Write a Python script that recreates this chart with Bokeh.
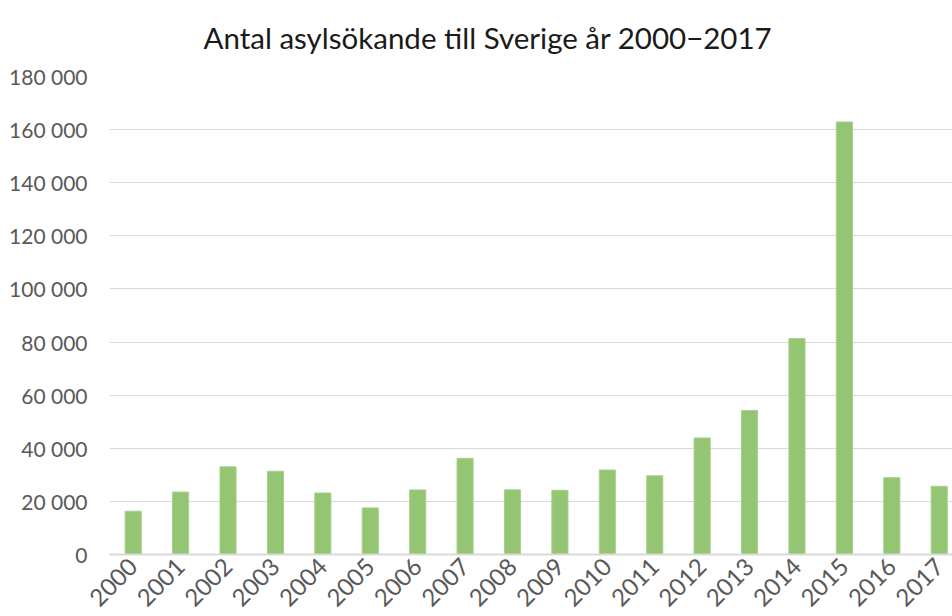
from bokeh.plotting import figure
from bokeh.models import Range1d, FixedTicker, ColumnDataSource
from bokeh.embed import file_html
from bokeh.resources import INLINE

years = [2000, 2001, 2002, 2003, 2004, 2005, 2006, 2007, 2008, 2009,
         2010, 2011, 2012, 2013, 2014, 2015, 2016, 2017]
year_labels = [str(y) for y in years]
applicants = [16303, 23515, 33016, 31355, 23161, 17530, 24322, 36207, 24353,
              24194, 31819, 29648, 43887, 54259, 81301, 162877, 28939, 25666]
y_ticks = [0, 20000, 40000, 60000, 80000, 100000, 120000, 140000, 160000, 180000]
y_tick_labels = ["0", "20 000", "40 000", "60 000", "80 000", "100 000",
                 "120 000", "140 000", "160 000", "180 000"]
title_text = "Antal asylsökande till Sverige år 2000\u22122017"

FONT = "Lato"
GRID = "#d9d9d9"
TXT = "#595959"

src = ColumnDataSource(dict(x=years, y=applicants))

p = figure(width=952, height=616, output_backend="svg", toolbar_location=None,
           x_range=Range1d(1999.5, 2017.28), y_range=Range1d(0, 180000),
           min_border_left=109, min_border_right=0, min_border_top=76,
           min_border_bottom=60)
p.outline_line_color = None
p.background_fill_color = "white"
p.border_fill_color = "white"

p.title.text = title_text
p.title.align = "left"
p.title.offset = 94
p.title.vertical_align = "top"
p.title.text_font = FONT
p.title.text_font_size = "29.5px"
p.title.text_font_style = "normal"
p.title.text_color = "#1a1a1a"
p.title.standoff = 39

p.vbar(x="x", top="y", width=0.34, source=src, fill_color="#93C572",
       line_color="#a8d08d", line_width=1)

p.xgrid.grid_line_color = None
p.ygrid.grid_line_color = GRID
p.ygrid.grid_line_width = 1
p.ygrid.ticker = FixedTicker(ticks=y_ticks)

p.yaxis.ticker = FixedTicker(ticks=y_ticks)
p.yaxis.major_label_overrides = {t: l for t, l in zip(y_ticks, y_tick_labels)}
p.yaxis.axis_line_color = None
p.yaxis.major_tick_line_color = None
p.yaxis.minor_tick_line_color = None
p.yaxis.major_tick_in = 0
p.yaxis.major_tick_out = 0
p.yaxis.major_label_standoff = 22
p.yaxis.major_label_text_font = FONT
p.yaxis.major_label_text_font_size = "21px"
p.yaxis.major_label_text_color = TXT

p.xaxis.ticker = FixedTicker(ticks=years)
p.xaxis.major_label_overrides = {y: l for y, l in zip(years, year_labels)}
p.xaxis.axis_line_color = GRID
p.xaxis.axis_line_width = 2
p.xaxis.major_tick_line_color = None
p.xaxis.minor_tick_line_color = None
p.xaxis.major_tick_in = 0
p.xaxis.major_tick_out = 0
p.xaxis.major_label_standoff = 8
p.xaxis.major_label_orientation = 0.785398
p.xaxis.major_label_text_font = FONT
p.xaxis.major_label_text_font_size = "24px"
p.xaxis.major_label_text_color = TXT

open("out.html", "w").write(file_html(p, INLINE))
